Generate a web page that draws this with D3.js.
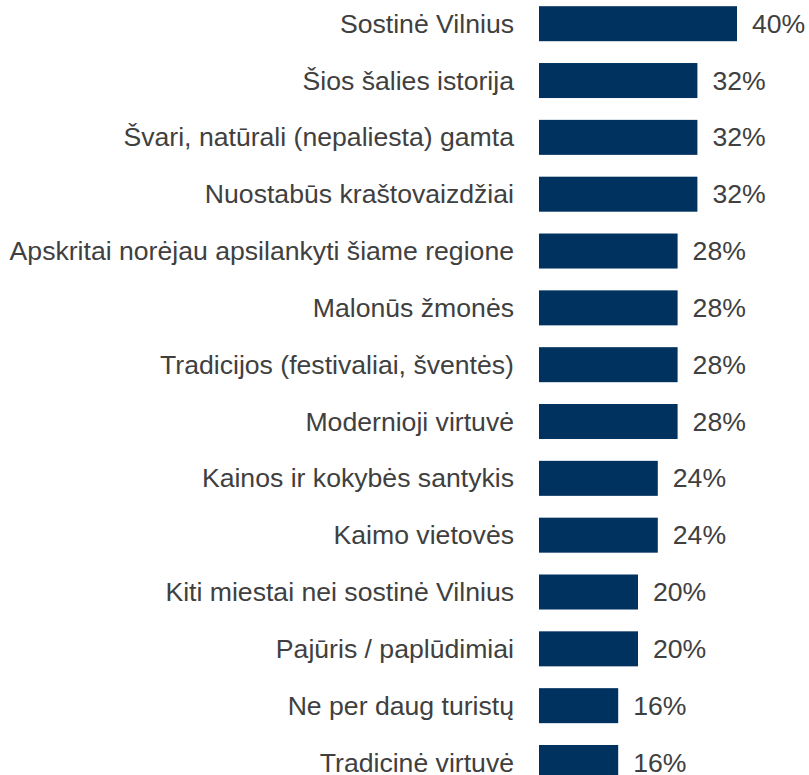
<!DOCTYPE html>
<html>
<head>
<meta charset="utf-8">
<script src="https://cdn.jsdelivr.net/npm/d3@7"></script>
<style>
  html, body { margin: 0; padding: 0; background: #fff; }
  svg { display: block; }
</style>
</head>
<body>
<svg id="chart" width="809" height="775"></svg>
<script>
// Reasons for visiting, share of respondents (%)
const categories = [
  "Sostinė Vilnius",
  "Šios šalies istorija",
  "Švari, natūrali (nepaliesta) gamta",
  "Nuostabūs kraštovaizdžiai",
  "Apskritai norėjau apsilankyti šiame regione",
  "Malonūs žmonės",
  "Tradicijos (festivaliai, šventės)",
  "Modernioji virtuvė",
  "Kainos ir kokybės santykis",
  "Kaimo vietovės",
  "Kiti miestai nei sostinė Vilnius",
  "Pajūris / paplūdimiai",
  "Ne per daug turistų",
  "Tradicinė virtuvė"
];
const values = [40, 32, 32, 32, 28, 28, 28, 28, 24, 24, 20, 20, 16, 16];

const svg = d3.select("#chart");
const barColor = "#00325F";
const textColor = "#404040";
const fontFamily = "Arial, 'Liberation Sans', sans-serif";
const fontSize = 25;
const stretchX = 1.065; // slightly wide lettering

const x = d3.scaleLinear().domain([0, 40]).range([539, 737]);
const step = 56.83;
const y = d3.scaleBand()
  .domain(categories)
  .range([6.2 - step * 0.192, 6.2 - step * 0.192 + step * categories.length])
  .paddingInner(0.384)
  .paddingOuter(0.192);

const data = categories.map((c, i) => ({ label: c, value: values[i] }));

svg.selectAll("rect.bar")
  .data(data)
  .join("rect")
  .attr("class", "bar")
  .attr("x", x(0))
  .attr("y", d => y(d.label))
  .attr("width", d => x(d.value) - x(0))
  .attr("height", y.bandwidth())
  .attr("fill", barColor);

// Category labels on the left
svg.selectAll("text.cat")
  .data(data)
  .join("text")
  .attr("class", "cat")
  .attr("transform", d => `translate(514,${y(d.label) + y.bandwidth() / 2}) scale(${stretchX},1)`)
  .attr("dy", "0.36em")
  .attr("text-anchor", "end")
  .attr("font-family", fontFamily)
  .attr("font-size", fontSize)
  .attr("fill", textColor)
  .text(d => d.label);

// Value labels at bar ends
svg.selectAll("text.val")
  .data(data)
  .join("text")
  .attr("class", "val")
  .attr("transform", d => `translate(${x(d.value) + 15},${y(d.label) + y.bandwidth() / 2}) scale(${stretchX},1)`)
  .attr("dy", "0.36em")
  .attr("font-family", fontFamily)
  .attr("font-size", fontSize)
  .attr("fill", textColor)
  .text(d => d.value + "%");
</script>
</body>
</html>
